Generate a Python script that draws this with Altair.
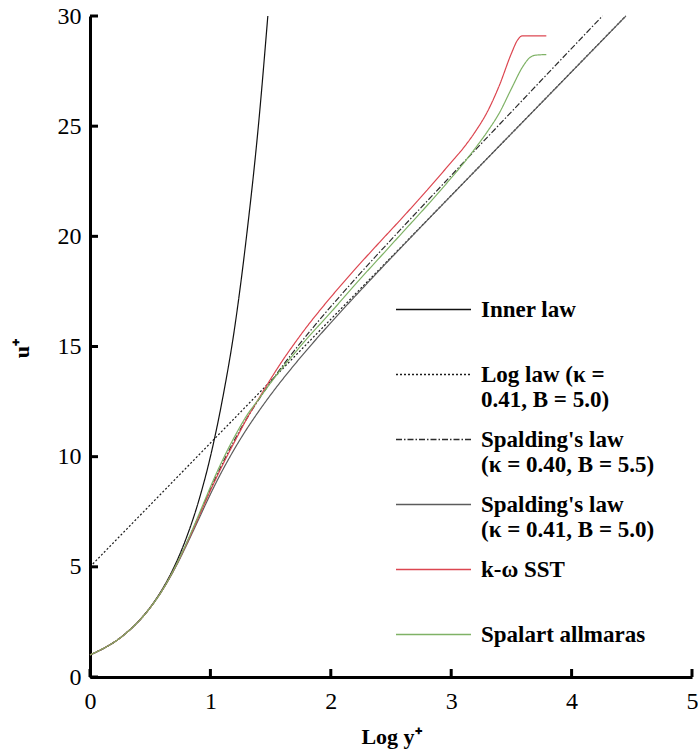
import altair as alt
import pandas as pd

# ---------------- data ----------------
x_domain = [0, 5]
y_domain = [0, 30]
x_ticks = [0, 1, 2, 3, 4, 5]
y_ticks = [0, 5, 10, 15, 20, 25, 30]

series_names = [
    "Inner law",
    "Log law (κ =|0.41, B = 5.0)",
    "Spalding's law|(κ = 0.40, B = 5.5)",
    "Spalding's law|(κ = 0.41, B = 5.0)",
    "k-ω SST",
    "Spalart allmaras",
]

inner_x = [0.0, 0.1, 0.2, 0.3, 0.4, 0.5, 0.6, 0.7, 0.8, 0.9, 1.0, 1.1, 1.2, 1.3, 1.4, 1.477]
inner_u = [1.0, 1.26, 1.58, 2.0, 2.51, 3.16, 3.98, 5.01, 6.31, 7.94, 10.0, 12.6, 15.8, 20.0, 25.1, 30.0]

loglaw_x = [0.0, 4.45]
loglaw_u = [5.0, 30.0]

spal40_x = [0.0, 0.302, 0.479, 0.607, 0.709, 0.797, 0.879, 0.958, 1.040, 1.128, 1.225, 1.332,
            1.452, 1.583, 1.724, 1.874, 2.192, 2.527, 2.869, 3.214, 3.561, 3.908, 4.256]
spal40_u = [1, 2, 3, 4, 5, 6, 7, 8, 9, 10, 11, 12, 13, 14, 15, 16, 18, 20, 22, 24, 26, 28, 30]

spal41_x = [0.0, 0.302, 0.479, 0.608, 0.712, 0.803, 0.889, 0.974, 1.064, 1.163, 1.272, 1.394,
            1.527, 1.672, 1.826, 1.987, 2.325, 2.673, 3.027, 3.382, 3.739, 4.095, 4.451]
spal41_u = [1, 2, 3, 4, 5, 6, 7, 8, 9, 10, 11, 12, 13, 14, 15, 16, 18, 20, 22, 24, 26, 28, 30]

sst_x = [0.0, 0.302, 0.479, 0.607, 0.709, 0.798, 0.881, 0.962, 1.046, 1.136, 1.232, 1.3,
         1.4, 1.5, 1.6, 1.7, 1.8, 1.9, 2.0, 2.2, 2.4, 2.6, 2.8, 3.0, 3.1, 3.2, 3.3, 3.4,
         3.5, 3.55, 3.59, 3.79]
sst_u = [1.0, 2.0, 3.0, 4.0, 5.0, 6.0, 7.0, 8.0, 9.0, 10.0, 11.0, 11.7,
         12.62, 13.52, 14.37, 15.15, 15.89, 16.58, 17.24, 18.5, 19.7, 20.88, 22.1, 23.36, 24.0, 24.75, 25.65, 26.85,
         28.3, 28.9, 29.1, 29.1]

sa_x = [0.0, 0.302, 0.479, 0.607, 0.708, 0.795, 0.875, 0.952, 1.03, 1.115, 1.21, 1.3,
        1.4, 1.5, 1.6, 1.7, 1.8, 1.9, 2.0, 2.2, 2.4, 2.6, 2.8, 3.0, 3.1, 3.2, 3.3, 3.4,
        3.5, 3.6, 3.65, 3.7, 3.79]
sa_u = [1.0, 2.0, 3.0, 4.0, 5.0, 6.0, 7.0, 8.0, 9.0, 10.0, 11.0, 11.85,
        12.6, 13.35, 14.05, 14.7, 15.35, 15.95, 16.55, 17.8, 19.0, 20.2, 21.4, 22.65, 23.3, 24.0, 24.75, 25.6,
        26.7, 27.75, 28.1, 28.22, 28.25]

# ---------------- styles ----------------
series_colors = ["#111111", "#1a1a1a", "#2b2b2b", "#5c5c5c", "#dc4650", "#7fb266"]
series_dash = [[1, 0], [2, 2], [6, 2, 1.5, 2], [1, 0], [1, 0], [1, 0]]

# drawing order (first drawn at bottom)
draw_order = [
    (series_names[0], inner_x, inner_u),
    (series_names[1], loglaw_x, loglaw_u),
    (series_names[2], spal40_x, spal40_u),
    (series_names[3], spal41_x, spal41_u),
    (series_names[4], sst_x, sst_u),
    (series_names[5], sa_x, sa_u),
]
rows = []
for name, xs, us in draw_order:
    for xv, uv in zip(xs, us):
        rows.append({"series": name, "x": xv, "u": uv})
df = pd.DataFrame(rows)

xt_df = pd.DataFrame({"x": x_ticks})
yt_df = pd.DataFrame({"u": y_ticks})

SERIF = "Liberation Serif"

legend = alt.Legend(
    title=None,
    orient="none",
    legendX=305,
    legendY=280,
    padding=0,
    symbolType="M-1,0H5",
    symbolSize=625,
    symbolStrokeWidth=1.4,
    labelFont=SERIF,
    labelFontSize=23,
    labelFontWeight="bold",
    labelColor="black",
    labelOffset=59,
    labelLimit=0,
    labelBaseline="middle",
    rowPadding=14,
    labelExpr="length(split(datum.label, '|')) > 1 ? split(datum.label, '|') : [datum.label, '']",
)

x_scale = alt.Scale(domain=x_domain, nice=False, zero=False)
y_scale = alt.Scale(domain=y_domain, nice=False, zero=False)

x_axis = alt.Axis(
    title="Log y⁺", values=x_ticks, format="d", ticks=False, tickSize=0, grid=False,
    domainWidth=3, domainColor="black", labelFlush=False,
    labelFont=SERIF, labelFontSize=24, labelColor="black", labelPadding=12,
    titleFont=SERIF, titleFontSize=22, titleFontWeight="bold", titleColor="black",
    titleY=66, titleBaseline="alphabetic")
y_axis = alt.Axis(
    title="u⁺", values=y_ticks, format="d", ticks=False, tickSize=0, grid=False,
    domainWidth=3, domainColor="black", labelFlush=False,
    labelFont=SERIF, labelFontSize=24, labelColor="black", labelPadding=9,
    titleFont=SERIF, titleFontSize=22, titleFontWeight="bold", titleColor="black",
    titleAngle=270, titleX=-62, titleY=332, titleAlign="center", titleBaseline="alphabetic")

lines = alt.Chart(df).mark_line(strokeWidth=1.2, interpolate="monotone").encode(
    x=alt.X("x:Q", scale=x_scale, axis=x_axis),
    y=alt.Y("u:Q", scale=y_scale, axis=y_axis),
    color=alt.Color("series:N", scale=alt.Scale(domain=series_names, range=series_colors), legend=legend),
    strokeDash=alt.StrokeDash("series:N", scale=alt.Scale(domain=series_names, range=series_dash), legend=legend),
    detail="series:N",
)

# inward-pointing ticks, placed through the shared scales
x_tick_marks = alt.Chart(xt_df).mark_rule(color="black", strokeWidth=3).encode(
    x=alt.X("x:Q", scale=x_scale, axis=x_axis),
    y=alt.value(661),
    y2=alt.value(653),
)
y_tick_marks = alt.Chart(yt_df).mark_rule(color="black", strokeWidth=3).encode(
    y=alt.Y("u:Q", scale=y_scale, axis=y_axis),
    x=alt.value(0),
    x2=alt.value(8),
)

chart = alt.layer(lines, x_tick_marks, y_tick_marks).properties(
    width=602,
    height=661,
    autosize=alt.AutoSizeParams(type="none"),
    padding={"left": 90, "top": 16, "right": 6, "bottom": 74},
    background="white",
).configure_view(stroke=None)

chart.save("out.html", embed_options={"renderer": "svg", "actions": False})
